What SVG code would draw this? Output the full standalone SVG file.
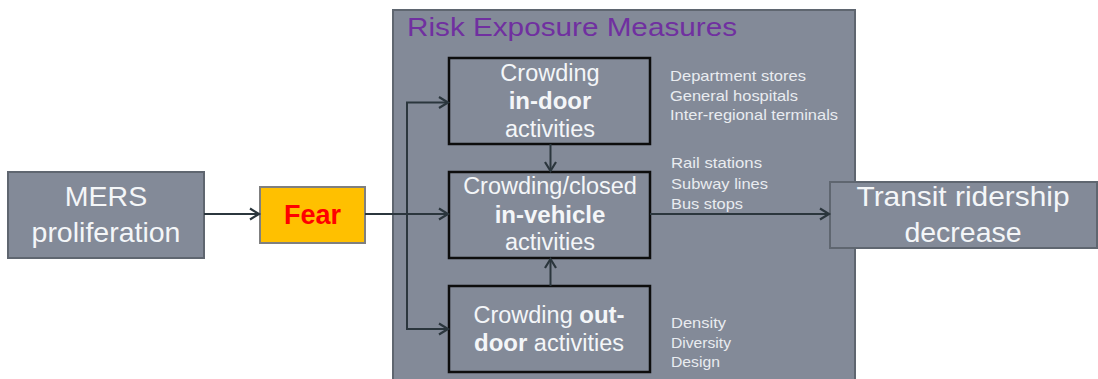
<svg xmlns="http://www.w3.org/2000/svg" width="1098" height="379" viewBox="0 0 1098 379">
  <defs>
    <marker id="chev" markerWidth="14" markerHeight="14" refX="11" refY="7" orient="auto" markerUnits="userSpaceOnUse">
      <path d="M2,1.5 L11,7 L2,12.5" fill="none" stroke="#2b363d" stroke-width="2.2"/>
    </marker>
  </defs>
  <style>
    .gray { fill: #838a98; stroke: #5f6670; stroke-width: 2; }
    .inner { fill: #838a98; stroke: #0d0d0d; stroke-width: 2.5; }
    .big { font-family: "Liberation Sans", Arial, sans-serif; font-size: 28.5px; fill: #f4f6f8; text-anchor: middle; }
    .mid { font-family: "Liberation Sans", Arial, sans-serif; font-size: 23.5px; fill: #f4f6f8; text-anchor: middle; }
    .b { font-weight: bold; font-size: 24px; }
    .side { font-family: "Liberation Sans", Arial, sans-serif; font-size: 15px; fill: #e9ecf0; }
    .conn { fill: none; stroke: #2b363d; stroke-width: 2; }
  </style>
  <rect width="1098" height="379" fill="#ffffff"/>

  <!-- Container for the exposure measures -->
  <g id="risk-exposure">
    <rect x="393" y="10" width="462" height="380" class="gray"/>
    <text x="407" y="36" font-family="Liberation Sans, Arial, sans-serif" font-size="26" fill="#7030a0" textLength="330" lengthAdjust="spacingAndGlyphs">Risk Exposure Measures</text>
  </g>

  <g id="mers">
    <rect x="8" y="172" width="196" height="86" class="gray"/>
    <text x="106" y="206" class="big">MERS</text>
    <text x="106" y="242" class="big">proliferation</text>
  </g>

  <g id="fear">
    <rect x="260" y="187" width="105" height="56" fill="#ffc000" stroke="#7f7f7f" stroke-width="2"/>
    <text x="312.5" y="224" font-family="Liberation Sans, Arial, sans-serif" font-size="27" font-weight="bold" fill="#ff0000" text-anchor="middle">Fear</text>
  </g>

  <g id="indoor">
    <rect x="449" y="58" width="201" height="86" class="inner"/>
    <text x="550" y="81" class="mid">Crowding</text>
    <text x="550" y="109" class="mid b">in-door</text>
    <text x="550" y="137" class="mid">activities</text>
  </g>

  <g id="invehicle">
    <rect x="449" y="172" width="201" height="86" class="inner"/>
    <text x="550" y="194" class="mid">Crowding/closed</text>
    <text x="550" y="223" class="mid b">in-vehicle</text>
    <text x="550" y="250" class="mid">activities</text>
  </g>

  <g id="outdoor">
    <rect x="449" y="286" width="201" height="86" class="inner"/>
    <text x="549" y="323" class="mid">Crowding <tspan class="b">out-</tspan></text>
    <text x="549" y="351" class="mid"><tspan class="b">door</tspan> activities</text>
  </g>

  <g id="transit">
    <rect x="830" y="182" width="267" height="66" class="gray"/>
    <text x="963" y="206" class="big" textLength="213" lengthAdjust="spacingAndGlyphs">Transit ridership</text>
    <text x="963" y="242" class="big">decrease</text>
  </g>

  <!-- Example lists beside each activity box -->
  <g id="indoor-examples" class="side">
    <text x="670" y="81" textLength="136" lengthAdjust="spacingAndGlyphs">Department stores</text>
    <text x="670" y="101" textLength="128" lengthAdjust="spacingAndGlyphs">General hospitals</text>
    <text x="670" y="120" textLength="168" lengthAdjust="spacingAndGlyphs">Inter-regional terminals</text>
  </g>
  <g id="invehicle-examples" class="side">
    <text x="671" y="168" textLength="91" lengthAdjust="spacingAndGlyphs">Rail stations</text>
    <text x="671" y="189" textLength="97" lengthAdjust="spacingAndGlyphs">Subway lines</text>
    <text x="671" y="209" textLength="72" lengthAdjust="spacingAndGlyphs">Bus stops</text>
  </g>
  <g id="outdoor-examples" class="side">
    <text x="671" y="328" textLength="55" lengthAdjust="spacingAndGlyphs">Density</text>
    <text x="671" y="348" textLength="60" lengthAdjust="spacingAndGlyphs">Diversity</text>
    <text x="671" y="367" textLength="49" lengthAdjust="spacingAndGlyphs">Design</text>
  </g>

  <g id="connectors" class="conn">
    <line x1="204" y1="214" x2="259" y2="214" marker-end="url(#chev)"/>
    <line x1="365" y1="214" x2="448" y2="214" marker-end="url(#chev)"/>
    <polyline points="407,214 407,102.5 448,102.5" marker-end="url(#chev)"/>
    <polyline points="407,214 407,329 448,329" marker-end="url(#chev)"/>
    <line x1="550.5" y1="144" x2="550.5" y2="171" marker-end="url(#chev)"/>
    <line x1="550.5" y1="286" x2="550.5" y2="259" marker-end="url(#chev)"/>
    <line x1="650" y1="214" x2="829" y2="214" marker-end="url(#chev)"/>
  </g>
</svg>
